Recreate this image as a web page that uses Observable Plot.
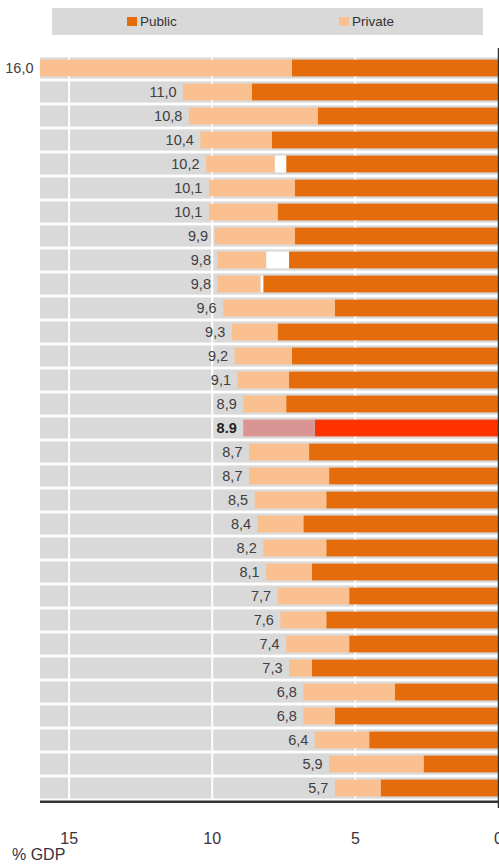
<!DOCTYPE html>
<html>
<head>
<meta charset="utf-8">
<script src="https://cdn.jsdelivr.net/npm/d3@7"></script>
<script src="https://cdn.jsdelivr.net/npm/@observablehq/plot@0.6"></script>
<style>
  html, body { margin: 0; padding: 0; background: #fff; }
  body { width: 499px; height: 864px; position: relative; overflow: hidden;
         font-family: "Liberation Sans", Arial, sans-serif; }
  #legend { position: absolute; left: 52px; top: 8px; width: 431px; height: 27px;
            background: #d9d9d9; font-size: 13.5px; color: #333; }
  #legend .item { position: absolute; top: 6px; display: flex; align-items: center; }
  #legend .sw { width: 10px; height: 9px; margin-right: 3px; }
  #chart { position: absolute; left: 0; top: 42px; }
  #unit { position: absolute; left: 12px; top: 846px; font-size: 16px; color: #3a3040; }
</style>
</head>
<body>
<div id="legend">
  <div class="item" style="left:75px"><span class="sw" style="background:#e46c0a"></span>Public</div>
  <div class="item" style="left:287px"><span class="sw" style="background:#fac090"></span>Private</div>
</div>
<div id="chart"></div>
<div id="unit">% GDP</div>
<script>
// Total spending, % of GDP, one value per row (top to bottom)
const totals = [16.0, 11.0, 10.8, 10.4, 10.2, 10.1, 10.1, 9.9, 9.8, 9.8, 9.6, 9.3, 9.2, 9.1, 8.9,
                8.9, 8.7, 8.7, 8.5, 8.4, 8.2, 8.1, 7.7, 7.6, 7.4, 7.3, 6.8, 6.8, 6.4, 5.9, 5.7];
// Public share, % of GDP
const publicSpend = [7.2, 8.6, 6.3, 7.9, 7.4, 7.1, 7.7, 7.1, 7.3, 8.2, 5.7, 7.7, 7.2, 7.3, 7.4,
                     6.4, 6.6, 5.9, 6.0, 6.8, 6.0, 6.5, 5.2, 6.0, 5.2, 6.5, 3.6, 5.7, 4.5, 2.6, 4.1];
// Spending not allocated to either sector
const unallocated = [0, 0, 0, 0, 0.4, 0, 0, 0, 0.8, 0.1, 0, 0, 0, 0, 0,
                     0, 0, 0, 0, 0, 0, 0, 0, 0, 0, 0, 0, 0, 0, 0, 0];
// Row shown as the reference average
const highlightRow = 15;
const xTicks = [15, 10, 5, 0];

const rows = totals.map((t, i) => ({row: i, total: t}));
const segments = rows.flatMap(({row, total}) => {
  const pub = publicSpend[row], un = unallocated[row];
  return [
    {row, part: "Public", value: pub},
    {row, part: "Unallocated", value: un},
    {row, part: "Private", value: +(total - pub - un).toFixed(2)}
  ];
});

const palette = {Public: "#e46c0a", Private: "#fac090", Unallocated: "#ffffff"};
const highlightPalette = {Public: "#ff3300", Private: "#d99594", Unallocated: "#ffffff"};
const fillOf = d => (d.row === highlightRow ? highlightPalette : palette)[d.part];
const fmt = (v, i) => i === highlightRow ? v.toFixed(1) : v.toFixed(1).replace(".", ",");

const plotTop = 6, plotBottomMargin = 56, plotHeight = 822;
const rowStep = (plotHeight - plotTop - plotBottomMargin) / totals.length;

const chart = Plot.plot({
  width: 499,
  height: plotHeight,
  marginLeft: 40,
  marginRight: 1,
  marginTop: plotTop,
  marginBottom: plotBottomMargin,
  style: {fontFamily: "'Liberation Sans', Arial, sans-serif", color: "#3a3040", background: "transparent"},
  x: {domain: [0, 16], reverse: true},
  y: {type: "band", domain: d3.range(totals.length), padding: 0, axis: null},
  color: {type: "identity"},
  marks: [
    // grey row bands
    Plot.barX(rows, {x1: 0, x2: 16, y: "row", fill: "#d9d9d9", insetTop: 1.4, insetBottom: 1.4}),
    // white vertical gridlines
    Plot.ruleX(xTicks.filter(d => d > 0), {stroke: "#ffffff", strokeWidth: 2}),
    // stacked bars: public, unallocated, private
    Plot.barX(segments, Plot.stackX({x: "value", y: "row", fill: fillOf, insetTop: 3.6, insetBottom: 3.6})),
    // total labels
    Plot.text(rows.filter(d => d.row !== highlightRow), {
      x: "total", y: "row", text: d => fmt(d.total, d.row),
      textAnchor: "end", dx: -7, fontSize: 14.5, fill: "#404040"
    }),
    Plot.text(rows.filter(d => d.row === highlightRow), {
      x: "total", y: "row", text: d => fmt(d.total, d.row),
      textAnchor: "end", dx: -7, fontSize: 14.5, fontWeight: "bold", fill: "#222"
    }),
    // axis line at zero on the right
    Plot.ruleX([0], {stroke: "#333", strokeWidth: 1.5}),
    // bottom axis line under the last row
    Plot.ruleY([totals.length - 1], {dy: rowStep / 2 + 1, stroke: "#333", strokeWidth: 2.5}),
    // bottom axis labels
    Plot.axisX({ticks: xTicks, tickSize: 0, tickPadding: 24, tickFormat: d => String(d),
                label: null, fontSize: 16, fill: "#3a3040"})
  ]
});
document.getElementById("chart").append(chart);
</script>
</body>
</html>
